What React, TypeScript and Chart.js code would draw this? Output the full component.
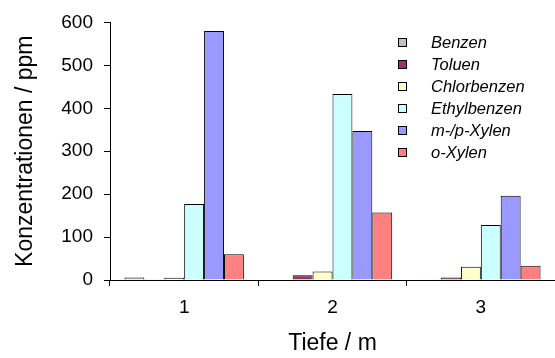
import React, { useEffect, useRef } from "react";
import { Chart, registerables } from "chart.js";

Chart.register(...registerables);

const categories = ["1", "2", "3"];
const seriesNames = ["Benzen", "Toluen", "Chlorbenzen", "Ethylbenzen", "m-/p-Xylen", "o-Xylen"];
const benzen = [6, 0, 2];
const toluen = [2, 11, 6];
const chlorbenzen = [5, 20, 31];
const ethylbenzen = [177, 433, 128];
const mpXylen = [580, 347, 196];
const oXylen = [60, 157, 33];
const colors = ["#C0C0C0", "#993366", "#FFFFCC", "#CCFFFF", "#9999FF", "#FF8080"];
const yTicks = [0, 100, 200, 300, 400, 500, 600];

const FONT = "'Liberation Sans', Arial, sans-serif";

const legendPlugin = {
  id: "insideLegend",
  afterDraw(chart: any) {
    const ctx = chart.ctx;
    ctx.save();
    chart.data.datasets.forEach((ds: any, i: number) => {
      const cy = 43 + i * 22;
      ctx.fillStyle = ds.backgroundColor;
      ctx.strokeStyle = "#000";
      ctx.lineWidth = 1;
      ctx.fillRect(398.5, cy - 4.5, 8, 8);
      ctx.strokeRect(398.5, cy - 4.5, 8, 8);
      ctx.fillStyle = "#000";
      ctx.font = "italic 16.5px " + FONT;
      ctx.textBaseline = "middle";
      ctx.textAlign = "left";
      ctx.fillText(ds.label, 431, cy);
    });
    ctx.restore();
  },
};

export default function App() {
  const ref = useRef<HTMLCanvasElement>(null);
  useEffect(() => {
    document.body.style.margin = "0";
    const values = [benzen, toluen, chlorbenzen, ethylbenzen, mpXylen, oXylen];
    const chart = new Chart(ref.current!, {
      type: "bar",
      data: {
        labels: categories,
        datasets: seriesNames.map((name, i) => ({
          label: name,
          data: values[i],
          backgroundColor: colors[i],
          borderColor: "#000",
          borderWidth: 1,
          categoryPercentage: 0.805,
          barPercentage: 1.0,
        })),
      },
      options: {
        animation: false,
        responsive: false,
        layout: { padding: { left: 12, right: -2, top: 17, bottom: 1 } },
        plugins: { legend: { display: false }, tooltip: { enabled: false } },
        scales: {
          x: {
            grid: { display: true, drawOnChartArea: false, drawTicks: true, tickLength: 6, color: "#000", offset: true },
            border: { color: "#000", width: 1 },
            ticks: { color: "#000", font: { family: FONT, size: 19 }, padding: 10 },
            title: { display: true, text: "Tiefe / m", color: "#000", font: { family: FONT, size: 23 }, padding: 0 },
            afterFit: (s: any) => { s.height = 77; },
          },
          y: {
            min: 0,
            max: 600,
            afterBuildTicks: (s: any) => { s.ticks = yTicks.map((v) => ({ value: v })); },
            grid: { display: true, drawOnChartArea: false, drawTicks: true, tickLength: 6, color: "#000" },
            border: { color: "#000", width: 1 },
            ticks: { color: "#000", font: { family: FONT, size: 19 }, padding: 11 },
            title: { display: true, text: "Konzentrationen / ppm", color: "#000", font: { family: FONT, size: 23 }, padding: 0 },
            afterFit: (s: any) => { s.width = 98; },
          },
        },
      },
      plugins: [legendPlugin],
    });
    return () => chart.destroy();
  }, []);
  return (
    <div style={{ position: "absolute", left: 0, top: 0, width: 555, height: 358 }}>
      <canvas ref={ref} width={555} height={358} />
    </div>
  );
}
